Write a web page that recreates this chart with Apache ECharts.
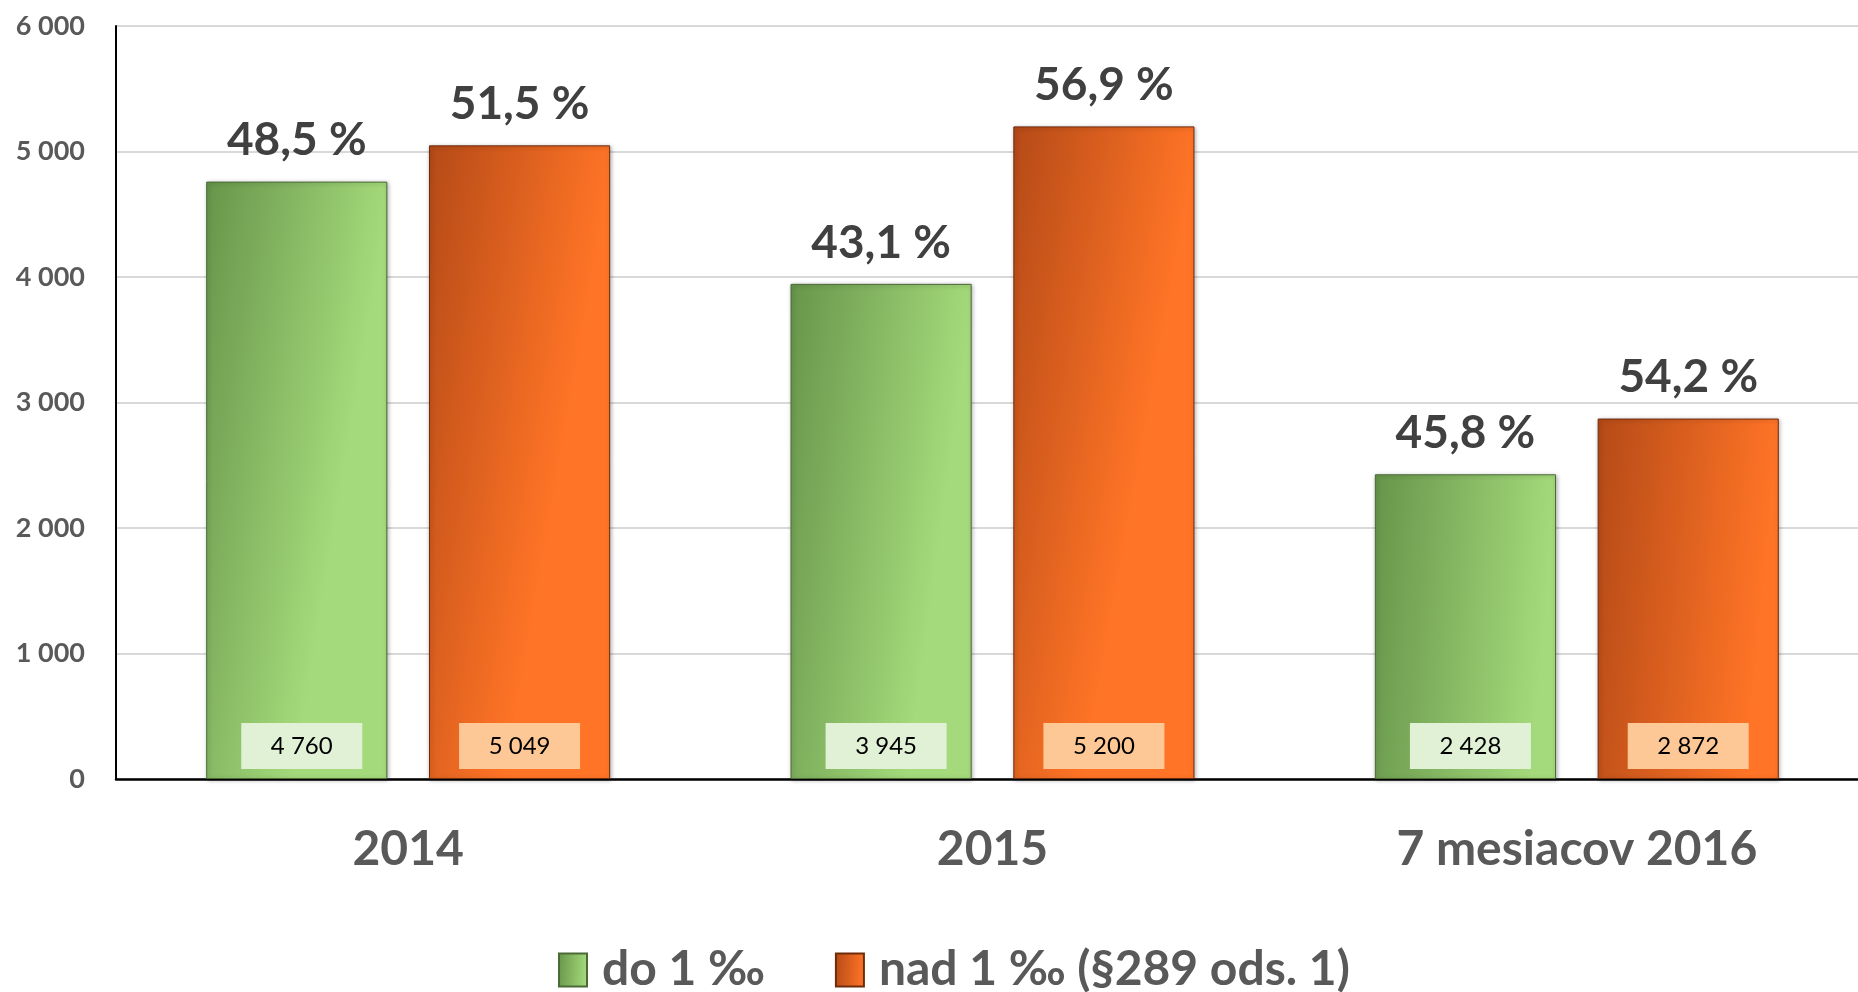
<!DOCTYPE html>
<html>
<head>
<meta charset="utf-8">
<script src="https://cdn.jsdelivr.net/npm/echarts@6/dist/echarts.min.js"></script>
<style>
html,body{margin:0;padding:0;background:#fff;overflow:hidden;}
#chart{width:1858px;height:992px;}
</style>
</head>
<body>
<div id="chart"></div>
<script>
const categories = ['2014', '2015', '7 mesiacov 2016'];
const seriesNames = ['do 1 ‰', 'nad 1 ‰ (§289 ods. 1)'];
const countDo = [4760, 3945, 2428];
const countNad = [5049, 5200, 2872];
const pctDo = [48.5, 43.1, 45.8];
const pctNad = [51.5, 56.9, 54.2];
const yTicks = { min: 0, max: 6000, interval: 1000 };

const FONT = 'Lato';
function fmtNum(v) {
  return String(v).replace(/\B(?=(\d{3})+(?!\d))/g, ' ');
}
function fmtPct(v) {
  return v.toFixed(1).replace('.', ',') + ' %';
}

const greenGrad = new echarts.graphic.LinearGradient(0, 0, 1, 0.05, [
  { offset: 0, color: '#67954a' },
  { offset: 1, color: '#a4da7b' }
]);
const orangeGrad = new echarts.graphic.LinearGradient(0, 0, 1, 0.05, [
  { offset: 0, color: '#b54a17' },
  { offset: 1, color: '#ff7426' }
]);

function mainSeries(name, data, grad, border, boxColor, stack, offX) {
  return {
    name: name,
    type: 'bar',
    stack: stack,
    data: data,
    barWidth: '31%',
    barGap: '23%',
    itemStyle: {
      color: grad,
      borderColor: border,
      borderWidth: 1,
      shadowColor: 'rgba(0,0,0,0.3)',
      shadowBlur: 4,
      shadowOffsetX: 1,
      shadowOffsetY: 1
    },
    label: {
      show: true,
      position: 'insideBottom',
      distance: 11,
      offset: [offX, -22],
      formatter: p => fmtNum(p.value),
      backgroundColor: boxColor,
      width: 121,
      height: 46,
      lineHeight: 46,
      align: 'center',
      verticalAlign: 'middle',
      color: '#000',
      fontFamily: FONT,
      fontSize: 24
    }
  };
}
function pctSeries(stack, pcts) {
  return {
    name: stack + '_pct',
    type: 'bar',
    stack: stack,
    data: pcts.map(() => 0),
    barWidth: '31%',
    barGap: '23%',
    itemStyle: { color: 'transparent' },
    tooltip: { show: false },
    label: {
      show: true,
      position: 'top',
      distance: 18,
      formatter: p => fmtPct(pcts[p.dataIndex]),
      color: '#404040',
      fontFamily: FONT,
      fontWeight: 'bold',
      fontSize: 46
    }
  };
}

const chart = echarts.init(document.getElementById('chart'));
chart.setOption({
  animation: false,
  backgroundColor: '#fff',
  grid: { left: 116, right: -11, top: 26, bottom: 213, containLabel: false, outerBoundsMode: 'none' },
  legend: {
    data: seriesNames,
    top: 941,
    left: 553,
    icon: 'rect',
    itemWidth: 28,
    itemHeight: 33,
    itemGap: 70,
    textStyle: {
      fontFamily: FONT, fontWeight: 'bold', fontSize: 48, color: '#595959',
      padding: [0, 0, 0, 10]
    }
  },
  xAxis: {
    type: 'category',
    data: categories,
    axisLine: { lineStyle: { color: '#000', width: 2.5 } },
    axisTick: { show: false },
    axisLabel: {
      margin: 47,
      fontFamily: FONT, fontWeight: 'bold', fontSize: 48, color: '#595959'
    }
  },
  yAxis: {
    type: 'value',
    min: yTicks.min, max: yTicks.max, interval: yTicks.interval,
    axisLine: { show: true, lineStyle: { color: '#000', width: 2 } },
    axisTick: { show: false },
    splitLine: { lineStyle: { color: '#d9d9d9', width: 2 } },
    axisLabel: {
      margin: 31,
      formatter: v => fmtNum(v),
      fontFamily: FONT, fontWeight: 'bold', fontSize: 27, color: '#595959'
    }
  },
  series: [
    mainSeries(seriesNames[0], countDo, greenGrad, '#4a6a36', '#e0f1d6', 'a', 5),
    pctSeries('a', pctDo),
    mainSeries(seriesNames[1], countNad, orangeGrad, '#6e2c0c', '#fdc896', 'b', 0),
    pctSeries('b', pctNad)
  ]
});
</script>
</body>
</html>
